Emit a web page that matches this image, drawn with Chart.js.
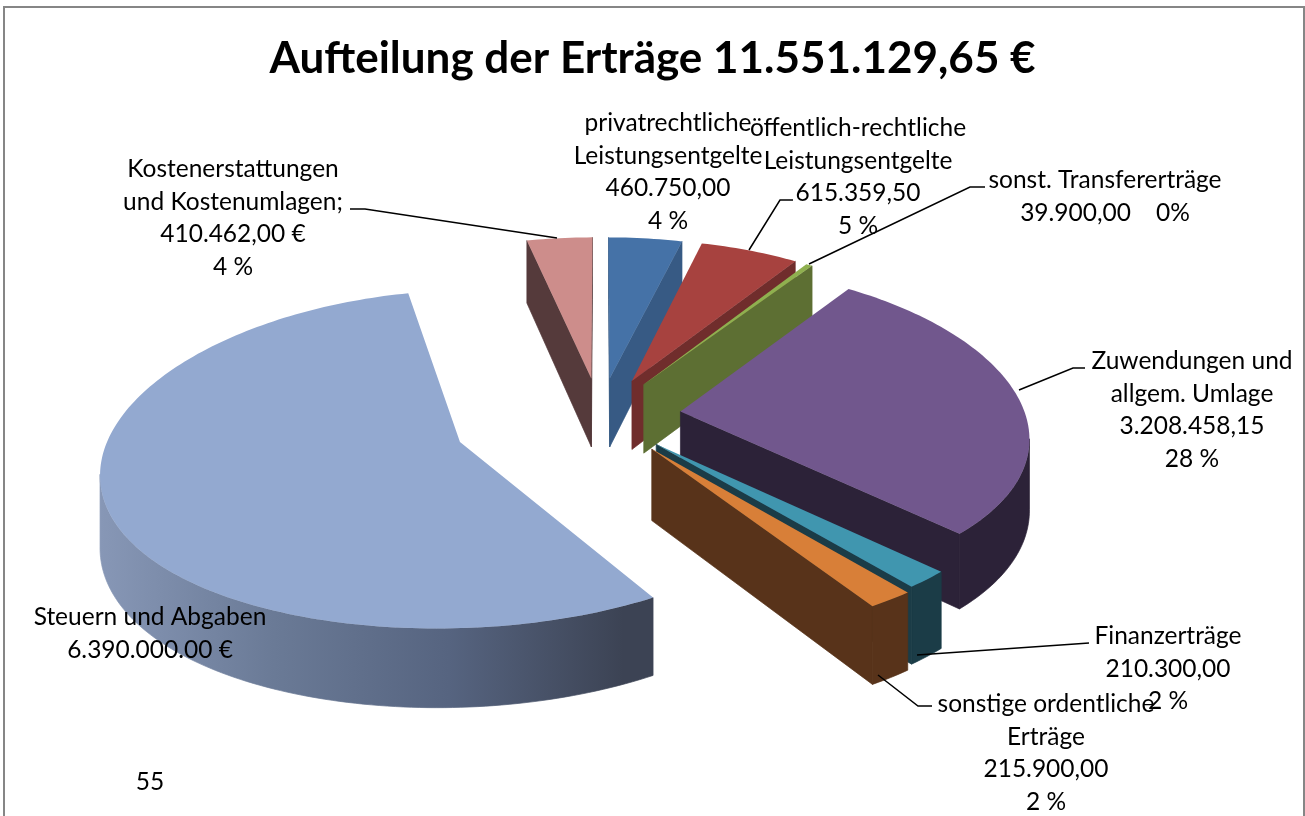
<!DOCTYPE html>
<html lang="de">
<head>
<meta charset="utf-8">
<title>Aufteilung der Erträge</title>
<script src="https://cdn.jsdelivr.net/npm/chart.js@4/dist/chart.umd.min.js"></script>
<style>
  html, body { margin: 0; height: 100%; background: #fff; overflow: hidden; }
  #frame { position: absolute; left: 3px; top: 6px; width: 1298px; height: 830px; border: 2px solid #868686; }
  #pie { position: absolute; left: 0; top: 0; }
</style>
</head>
<body>
<div id="frame"></div>
<canvas id="pie" width="1305" height="816"></canvas>
<script>
// clockwise from 12 o'clock
const categories = [
  'privatrechtliche Leistungsentgelte',
  'öffentlich-rechtliche Leistungsentgelte',
  'sonst. Transfererträge',
  'Zuwendungen und allgem. Umlage',
  'Finanzerträge',
  'sonstige ordentliche Erträge',
  'Steuern und Abgaben',
  'Kostenerstattungen und Kostenumlagen'
];
const values = [460750.00, 615359.50, 39900.00, 3208458.15, 210300.00, 215900.00, 6390000.00, 410462.00];
const explode = [80, 81, 80, 81, 82, 87, 148, 80];
const topColors = ['#4572a7', '#a7423f', '#8fb04f', '#71578d', '#4096af', '#d87f38', '#93a9d0', '#cd8d8b'];
const wallColors = ['#375a84', '#702d2c', '#5d6f33', '#2c2238', '#1b3c47', '#58331a', null, '#553a3b'];
const steuernWall = ['#8797b6', '#6a7a96', '#566480', '#3c4354'];

const titleText = 'Aufteilung der Erträge 11.551.129,65 €';
const labelLines = [
  ['privatrechtliche', 'Leistungsentgelte', '460.750,00', '4 %'],
  ['öffentlich-rechtliche', 'Leistungsentgelte', '615.359,50', '5 %'],
  ['sonst. Transfererträge', '39.900,00    0%'],
  ['Zuwendungen und', 'allgem. Umlage', '3.208.458,15', '28 %'],
  ['Finanzerträge', '210.300,00', '2 %'],
  ['sonstige ordentliche', 'Erträge', '215.900,00', '2 %'],
  ['Steuern und Abgaben', '6.390.000.00 €'],
  ['Kostenerstattungen', 'und Kostenumlagen;', '410.462,00 €', '4 %'],
  ['55']
];
// centre x, first line y
const labelAnchors = [[668, 123], [858, 128], [1105, 180], [1192, 361], [1168, 636], [1046, 704], [150, 617], [233, 169], [150, 782]];
const leaders = [
  [[793, 200], [780, 200], [749, 250]],
  [[985, 187], [970, 187], [809, 264]],
  [[1085, 368], [1073, 368], [1019, 390]],
  [[1089, 643], [1075, 644], [917, 655]],
  [[932, 706], [918, 706], [878, 675]],
  [[350, 209], [365, 209], [557, 238]]
];

// camera for the tilted pie
const view = { x: 600, y: 415, tilt: 0.47, perspX: 0.0004, perspY: 0.00029, depth: 70 };

function project(u, v, down) {
  const sx = 1 / (1 - view.perspX * v);
  const sy = 1 / (1 - view.perspY * v);
  return { x: view.x + u * sx, y: view.y + (view.tilt * v + (down ? view.depth : 0)) * sy };
}

function tracePoly(ctx, pts) {
  ctx.beginPath();
  pts.forEach((p, i) => i ? ctx.lineTo(p.x, p.y) : ctx.moveTo(p.x, p.y));
  ctx.closePath();
}

function area(pts) {
  let a = 0;
  pts.forEach((p, i) => {
    const q = pts[(i + 1) % pts.length];
    a += p.x * q.y - q.x * p.y;
  });
  return a / 2;
}

function drawSlice(ctx, arc, index) {
  const { startAngle, endAngle, outerRadius } = arc;
  const offset = arc.options.offset;
  const mid = (startAngle + endAngle) / 2;
  const ox = Math.cos(mid) * offset;
  const oy = Math.sin(mid) * offset;

  const ground = [[ox, oy]];
  const steps = Math.max(2, Math.ceil((endAngle - startAngle) / 0.02));
  for (let i = 0; i <= steps; i++) {
    const a = startAngle + (endAngle - startAngle) * i / steps;
    ground.push([ox + Math.cos(a) * outerRadius, oy + Math.sin(a) * outerRadius]);
  }

  let fill = wallColors[index];
  if (!fill) {
    const xs = ground.map(g => project(g[0], g[1], true).x);
    const grad = ctx.createLinearGradient(Math.min(...xs), 0, Math.max(...xs) - 30, 0);
    steuernWall.forEach((c, i) => grad.addColorStop(i / (steuernWall.length - 1), c));
    fill = grad;
  }

  ctx.fillStyle = fill;
  ctx.strokeStyle = fill;
  ctx.lineWidth = 0.7;

  const paint = pts => {
    tracePoly(ctx, pts);
    ctx.fill();
    ctx.stroke();
  };
  // outer wall goes in as one shape, otherwise the seams show
  let run = [];
  const flush = () => {
    if (run.length > 1) {
      paint(run.map(g => project(g[0], g[1])).concat(run.slice().reverse().map(g => project(g[0], g[1], true))));
    }
    run = [];
  };
  ground.forEach((g, i) => {
    const h = ground[(i + 1) % ground.length];
    const quad = [project(g[0], g[1]), project(h[0], h[1]), project(h[0], h[1], true), project(g[0], g[1], true)];
    const visible = area(quad) < 0;
    if (i === 0 || i === ground.length - 1) {
      flush();
      if (visible) paint(quad);
    } else if (visible) {
      if (!run.length) run.push(g);
      run.push(h);
    } else {
      flush();
    }
  });
  flush();

  tracePoly(ctx, ground.map(g => project(g[0], g[1])));
  ctx.fillStyle = arc.options.backgroundColor;
  ctx.fill();
}

const tiltedPie = {
  id: 'tiltedPie',
  beforeDatasetDraw(chart, args) {
    const ctx = chart.ctx;
    const arcs = args.meta.data.map((arc, i) => ({ arc, i }));
    const depthOf = o => Math.sin((o.arc.startAngle + o.arc.endAngle) / 2) * o.arc.options.offset;
    arcs.sort((a, b) => depthOf(a) - depthOf(b));
    ctx.save();
    arcs.forEach(o => drawSlice(ctx, o.arc, o.i));
    ctx.restore();
    return false;
  },
  afterDraw(chart) {
    const ctx = chart.ctx;
    ctx.save();
    ctx.strokeStyle = '#000';
    ctx.lineWidth = 1.5;
    leaders.forEach(line => {
      ctx.beginPath();
      line.forEach((p, i) => i ? ctx.lineTo(p[0], p[1]) : ctx.moveTo(p[0], p[1]));
      ctx.stroke();
    });
    ctx.fillStyle = '#000';
    ctx.font = '24.5px Lato';
    ctx.textAlign = 'center';
    ctx.textBaseline = 'middle';
    labelLines.forEach((lines, i) => {
      lines.forEach((t, j) => ctx.fillText(t, labelAnchors[i][0], labelAnchors[i][1] + j * 32.6));
    });
    ctx.restore();
  }
};

new Chart(document.getElementById('pie'), {
  type: 'pie',
  data: {
    labels: categories,
    datasets: [{ data: values, backgroundColor: topColors, offset: explode, borderWidth: 0 }]
  },
  options: {
    responsive: false,
    animation: false,
    radius: 345,
    plugins: {
      legend: { display: false },
      tooltip: { enabled: false },
      title: {
        display: true,
        text: titleText,
        color: '#000',
        font: { family: 'Lato', size: 44, weight: 'bold' },
        padding: { top: 32, bottom: 10 }
      }
    }
  },
  plugins: [tiltedPie]
});
</script>
</body>
</html>
